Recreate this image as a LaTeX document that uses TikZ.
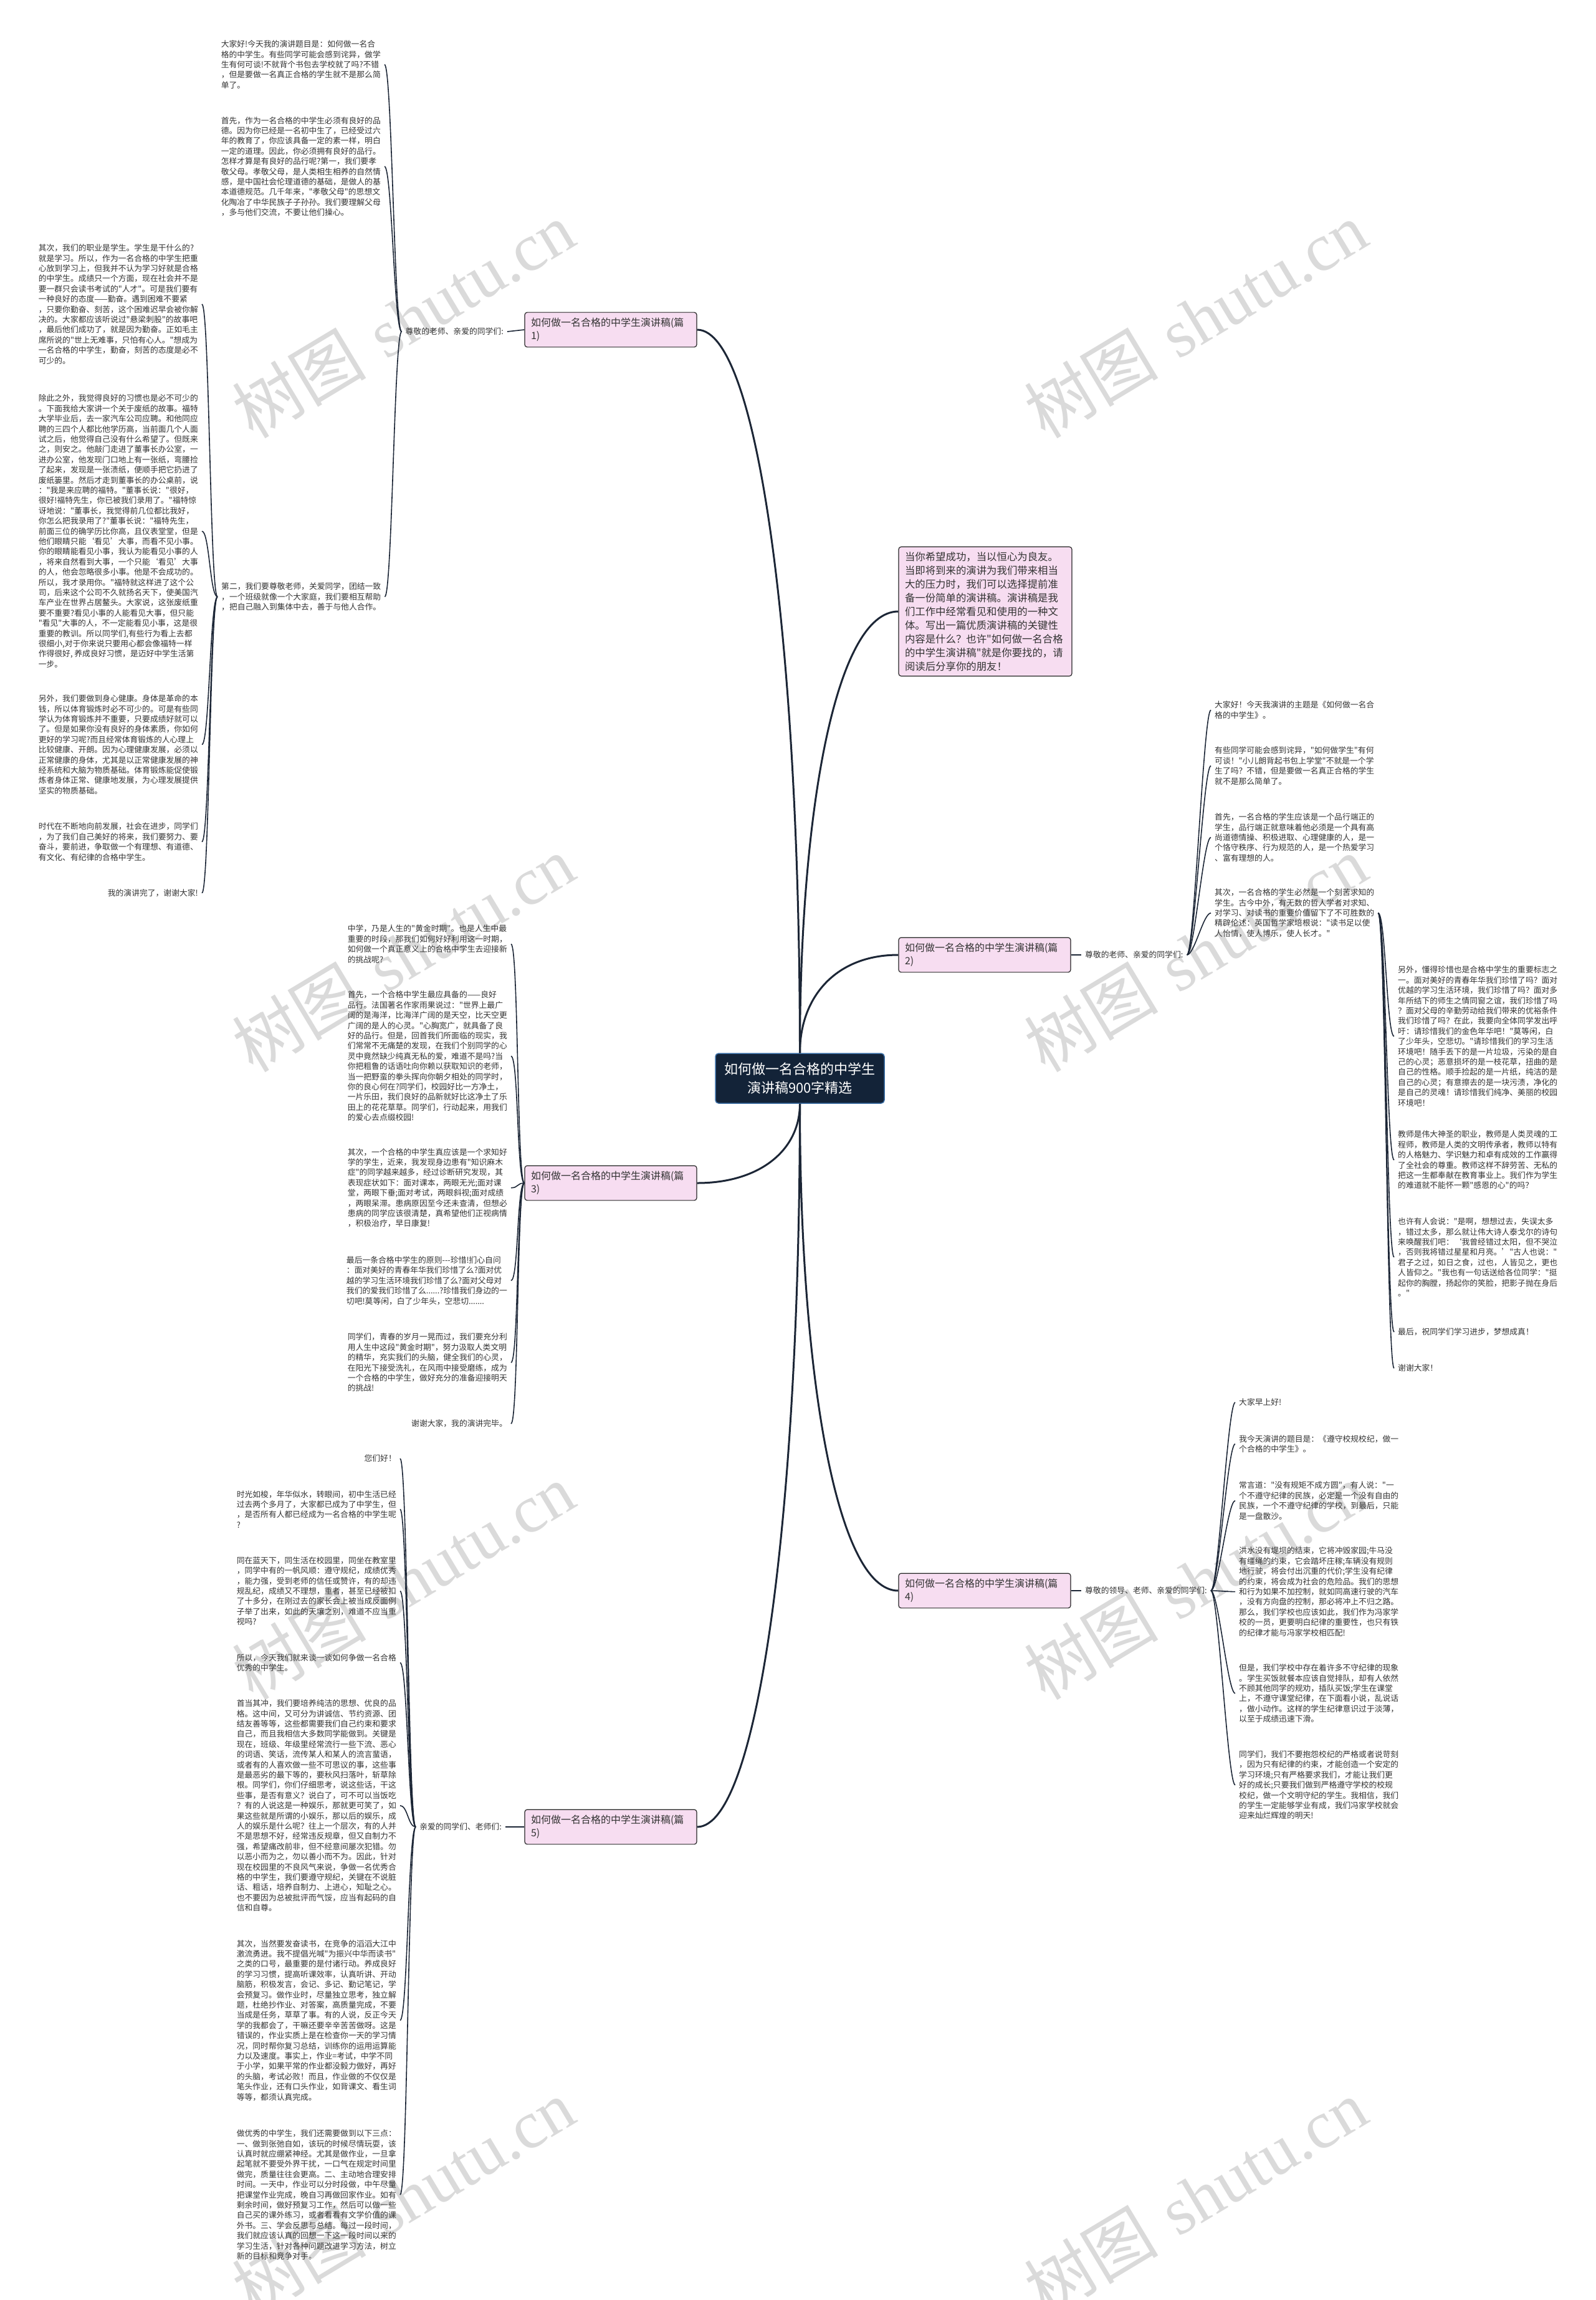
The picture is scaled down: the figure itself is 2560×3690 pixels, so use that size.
\documentclass[tikz,border=0pt]{standalone}
\usepackage{fontspec}
\newfontfamily\zh{Noto Sans CJK SC}
\newfontfamily\wmserif{Liberation Serif}
\definecolor{pinkfill}{HTML}{F7DDF1}
\definecolor{navyfill}{HTML}{132338}
\definecolor{navyedge}{HTML}{3A6EA5}
\definecolor{linec}{HTML}{1C2636}
\definecolor{txt}{HTML}{333333}
\definecolor{wmgray}{HTML}{DADADA}
\tikzset{
  leaf/.style={font=\zh\fontsize{12.8}{16.4}\selectfont, text=txt, align=left, inner xsep=6pt, inner ysep=0pt},
  topic/.style={draw=black!85, line width=1.2pt, fill=pinkfill, rounded corners=4pt, font=\zh\fontsize{16}{21}\selectfont, text=txt, align=left, text width=256pt, inner xsep=10pt, inner ysep=9pt},
  summarybox/.style={draw=black!85, line width=1.2pt, fill=pinkfill, rounded corners=4pt, font=\zh\fontsize{16.4}{22}\selectfont, text=txt, align=left, text width=258pt, inner xsep=10pt, inner ysep=8pt},
  rootnode/.style={draw=navyedge, line width=1.5pt, fill=navyfill, rounded corners=5pt, font=\zh\fontsize{22}{30}\selectfont, text=white, align=center, minimum width=271pt, minimum height=80pt},
  mainline/.style={draw=linec, line width=3pt},
  leafline/.style={draw=linec, line width=1.6pt},
  watermark/.style={font=\fontsize{108}{108}\selectfont, text=wmgray, rotate=31, inner sep=0pt}
}
\begin{document}
\begin{tikzpicture}[x=1pt,y=-1pt]
\useasboundingbox (0,0) rectangle (2560,3690);
\fill[white] (0,0) rectangle (2560,3690);

% watermarks
\foreach \wx/\wy [count=\i] in {647/513, 1918/513, 647/1530, 1918/1530, 647/2537, 1918/2537, 647/3525, 1918/3525}
  \node[watermark] (wm\i) at (\wx,\wy) {{\zh 树图} {\wmserif shutu.cn}};

% root and topics
\node[rootnode] (root) at (1283.5,1730) {如何做一名合格的中学生\\演讲稿900字精选};
\node[topic] (p1) at (980,529) {如何做一名合格的中学生演讲稿(篇\\1)};
\node[summarybox] (sum) at (1581,981) {当你希望成功，当以恒心为良友。\\当即将到来的演讲为我们带来相当\\大的压力时，我们可以选择提前准\\备一份简单的演讲稿。演讲稿是我\\们工作中经常看见和使用的一种文\\体。写出一篇优质演讲稿的关键性\\内容是什么？也许"如何做一名合格\\的中学生演讲稿"就是你要找的，请\\阅读后分享你的朋友！};
\node[topic] (p2) at (1580,1532) {如何做一名合格的中学生演讲稿(篇\\2)};
\node[topic] (p3) at (980,1898) {如何做一名合格的中学生演讲稿(篇\\3)};
\node[topic] (p4) at (1580,2552) {如何做一名合格的中学生演讲稿(篇\\4)};
\node[topic] (p5) at (980,2931) {如何做一名合格的中学生演讲稿(篇\\5)};

% labels
\node[leaf, anchor=east] (l1) at (814,532) {尊敬的老师、亲爱的同学们:};
\node[leaf, anchor=west] (l2) at (1735,1532) {尊敬的老师、亲爱的同学们:};
\node[leaf, anchor=west] (l4) at (1735,2552) {尊敬的领导、老师、亲爱的同学们:};
\node[leaf, anchor=east] (l5) at (811,2931) {亲爱的同学们、老师们:};

% branch 1
\node[leaf, anchor=east] (b1a) at (617,103.5) {大家好!今天我的演讲题目是：如何做一名合\\格的中学生。有些同学可能会感到诧异，做学\\生有何可谈!不就背个书包去学校就了吗?不错\\，但是要做一名真正合格的学生就不是那么简\\单了。};
\node[leaf, anchor=east] (b1b) at (617,267.1) {首先，作为一名合格的中学生必须有良好的品\\德。因为你已经是一名初中生了，已经受过六\\年的教育了，你应该具备一定的素一样，明白\\一定的道理。因此，你必须拥有良好的品行。\\怎样才算是有良好的品行呢?第一，我们要孝\\敬父母。孝敬父母，是人类相生相养的自然情\\感，是中国社会伦理道德的基础，是做人的基\\本道德规范。几千年来，"孝敬父母"的思想文\\化陶冶了中华民族子子孙孙。我们要理解父母\\，多与他们交流，不要让他们操心。};
\node[leaf, anchor=west] (b1c) at (349,957.4) {第二，我们要尊敬老师，关爱同学，团结一致\\，一个班级就像一个大家庭，我们要相互帮助\\，把自己融入到集体中去，善于与他人合作。};
\node[leaf, anchor=east] (b1d) at (324,488) {其次，我们的职业是学生。学生是干什么的?\\就是学习。所以，作为一名合格的中学生把重\\心放到学习上，但我并不认为学习好就是合格\\的中学生。成绩只一个方面，现在社会并不是\\要一群只会读书考试的"人才"。可是我们要有\\一种良好的态度——勤奋。遇到困难不要紧\\，只要你勤奋、刻苦，这个困难迟早会被你解\\决的。大家都应该听说过"悬梁刺股"的故事吧\\，最后他们成功了，就是因为勤奋。正如毛主\\席所说的"世上无难事，只怕有心人。"想成为\\一名合格的中学生，勤奋，刻苦的态度是必不\\可少的。};
\node[leaf, anchor=east] (b1e) at (324,852.2) {除此之外，我觉得良好的习惯也是必不可少的\\。下面我给大家讲一个关于废纸的故事。福特\\大学毕业后，去一家汽车公司应聘。和他同应\\聘的三四个人都比他学历高，当前面几个人面\\试之后，他觉得自己没有什么希望了。但既来\\之，则安之。他敲门走进了董事长办公室，一\\进办公室，他发现门口地上有一张纸，弯腰捡\\了起来，发现是一张渍纸，便顺手把它扔进了\\废纸篓里。然后才走到董事长的办公桌前，说\\："我是来应聘的福特。"董事长说："很好，\\很好!福特先生，你已被我们录用了。"福特惊\\讶地说："董事长，我觉得前几位都比我好，\\你怎么把我录用了?"董事长说："福特先生，\\前面三位的确学历比你高，且仪表堂堂，但是\\他们眼睛只能‘看见’大事，而看不见小事。\\你的眼睛能看见小事，我认为能看见小事的人\\，将来自然看到大事，一个只能‘看见’大事\\的人，他会忽略很多小事。他是不会成功的。\\所以，我才录用你。"福特就这样进了这个公\\司，后来这个公司不久就扬名天下，使美国汽\\车产业在世界占居鳌头。大家说，这张废纸重\\要不重要?看见小事的人能看见大事，但只能\\"看见"大事的人，不一定能看见小事，这是很\\重要的教训。所以同学们,有些行为看上去都\\很细小,对于你来说只要用心都会像福特一样\\作得很好, 养成良好习惯，是迈好中学生活第\\一步。};
\node[leaf, anchor=east] (b1f) at (324,1194.5) {另外，我们要做到身心健康。身体是革命的本\\钱，所以体育锻炼时必不可少的。可是有些同\\学认为体育锻炼并不重要，只要成绩好就可以\\了。但是如果你没有良好的身体素质，你如何\\更好的学习呢?而且经常体育锻炼的人心理上\\比较健康、开朗。因为心理健康发展，必须以\\正常健康的身体，尤其是以正常健康发展的神\\经系统和大脑为物质基础。体育锻炼能促使锻\\炼者身体正常、健康地发展，为心理发展提供\\坚实的物质基础。};
\node[leaf, anchor=east] (b1g) at (324,1350.6) {时代在不断地向前发展，社会在进步，同学们\\，为了我们自己美好的将来，我们要努力、要\\奋斗，要前进，争取做一个有理想、有道德、\\有文化、有纪律的合格中学生。};
\node[leaf, anchor=east] (b1h) at (324,1432.7) {我的演讲完了，谢谢大家!};

% branch 2
\node[leaf, anchor=west] (b2a) at (1943,1139.2) {大家好！今天我演讲的主题是《如何做一名合\\格的中学生》。};
\node[leaf, anchor=west] (b2b) at (1943,1228.6) {有些同学可能会感到诧异，"如何做学生"有何\\可谈！"小儿朗背起书包上学堂"不就是一个学\\生了吗？不错，但是要做一名真正合格的学生\\就不是那么简单了。};
\node[leaf, anchor=west] (b2c) at (1943,1343.5) {首先，一名合格的学生应该是一个品行端正的\\学生，品行端正就意味着他必须是一个具有高\\尚道德情操、积极进取、心理健康的人，是一\\个恪守秩序、行为规范的人，是一个热爱学习\\、富有理想的人。};
\node[leaf, anchor=west] (b2d) at (1943,1464.8) {其次，一名合格的学生必然是一个刻苦求知的\\学生。古今中外，有无数的哲人学者对求知、\\对学习、对读书的重要价值留下了不可胜数的\\精辟伦述：英国哲学家培根说："读书足以使\\人怡情，使人博乐，使人长才。"};
\node[leaf, anchor=west] (b2e) at (2237,1662.5) {另外，懂得珍惜也是合格中学生的重要标志之\\一。面对美好的青春年华我们珍惜了吗？面对\\优越的学习生活环境，我们珍惜了吗？面对多\\年所结下的师生之情同窗之谊，我们珍惜了吗\\？面对父母的辛勤劳动给我们带来的优裕条件\\我们珍惜了吗？在此，我要向全体同学发出呼\\吁：请珍惜我们的金色年华吧！"莫等闲，白\\了少年头，空悲切。"请珍惜我们的学习生活\\环境吧！随手丢下的是一片垃圾，污染的是自\\己的心灵；恶意损坏的是一枝花草，扭曲的是\\自己的性格。顺手捡起的是一片纸，纯洁的是\\自己的心灵；有意擦去的是一块污渍，净化的\\是自己的灵魂！请珍惜我们纯净、美丽的校园\\环境吧！};
\node[leaf, anchor=west] (b2f) at (2237,1861) {教师是伟大神圣的职业，教师是人类灵魂的工\\程师，教师是人类的文明传承者，教师以特有\\的人格魅力、学识魅力和卓有成效的工作赢得\\了全社会的尊重。教师这样不辞劳苦、无私的\\把这一生都奉献在教育事业上。我们作为学生\\的难道就不能怀一颗"感恩的心"的吗？};
\node[leaf, anchor=west] (b2g) at (2237,2017) {也许有人会说："是啊，想想过去，失误太多\\，错过太多，那么就让伟大诗人泰戈尔的诗句\\来唤醒我们吧：‘我曾经错过太阳，但不哭泣\\，否则我将错过星星和月亮。’"古人也说："\\君子之过，如日之食，过也，人皆见之，更也\\人皆仰之。"我也有一句话送给各位同学："挺\\起你的胸膛，扬起你的笑脸，把影子抛在身后\\。"};
\node[leaf, anchor=west] (b2h) at (2237,2137) {最后，祝同学们学习进步，梦想成真！};
\node[leaf, anchor=west] (b2i) at (2237,2195) {谢谢大家！};

% branch 3
\node[leaf, anchor=east] (b3a) at (820,1514.6) {中学，乃是人生的"黄金时期"。也是人生中最\\重要的时段，那我们如何好好利用这一时期，\\如何做一个真正意义上的合格中学生去迎接新\\的挑战呢?};
\node[leaf, anchor=east] (b3b) at (820,1694.4) {首先，一个合格中学生最应具备的——良好\\品行。法国著名作家雨果说过："世界上最广\\阔的是海洋，比海洋广阔的是天空，比天空更\\广阔的是人的心灵。"心胸宽广，就具备了良\\好的品行。但是，回首我们所面临的现实，我\\们常常不无痛楚的发现，在我们个别同学的心\\灵中竟然缺少纯真无私的爱，难道不是吗?当\\你把粗鲁的话语吐向你赖以获取知识的老师，\\当一把野蛮的拳头挥向你朝夕相处的同学时，\\你的良心何在?同学们，校园好比一方净土，\\一片乐田，我们良好的品新就好比这净土了乐\\田上的花花草草。同学们，行动起来，用我们\\的爱心去点缀校园!};
\node[leaf, anchor=east] (b3c) at (820,1905.7) {其次，一个合格的中学生真应该是一个求知好\\学的学生，近来，我发现身边患有"知识麻木\\症"的同学越来越多，经过诊断研究发现，其\\表现症状如下：面对课本，两眼无光;面对课\\堂，两眼下垂;面对考试，两眼斜视;面对成绩\\，两眼呆滞。患病原因至今还未查清，但想必\\患病的同学应该很清楚，真希望他们正视病情\\，积极治疗，早日康复!};
\node[leaf, anchor=east] (b3d) at (820,2054.5) {最后一条合格中学生的原则---珍惜!扪心自问\\：面对美好的青春年华我们珍惜了么?面对优\\越的学习生活环境我们珍惜了么?面对父母对\\我们的爱我们珍惜了么......?珍惜我们身边的一\\切吧!莫等闲，白了少年头，空悲切.......};
\node[leaf, anchor=east] (b3e) at (820,2186) {同学们，青春的岁月一晃而过，我们要充分利\\用人生中这段"黄金时期"，努力汲取人类文明\\的精华，充实我们的头脑，健全我们的心灵，\\在阳光下接受洗礼，在风雨中接受磨练，成为\\一个合格的中学生，做好充分的准备迎接明天\\的挑战!};
\node[leaf, anchor=east] (b3f) at (820,2284) {谢谢大家，我的演讲完毕。};

% branch 4
\node[leaf, anchor=west] (b4a) at (1982,2250) {大家早上好!};
\node[leaf, anchor=west] (b4b) at (1982,2316.6) {我今天演讲的题目是：《遵守校规校纪，做一\\个合格的中学生》。};
\node[leaf, anchor=west] (b4c) at (1982,2407.6) {常言道："没有规矩不成方圆"，有人说："一\\个不遵守纪律的民族，必定是一个没有自由的\\民族，一个不遵守纪律的学校，到最后，只能\\是一盘散沙。};
\node[leaf, anchor=west] (b4d) at (1982,2553.6) {洪水没有堤坝的结束，它将冲毁家园;牛马没\\有缰绳的约束，它会踏坏庄稼;车辆没有规则\\地行驶，将会付出沉重的代价;学生没有纪律\\的约束，将会成为社会的危险品。我们的思想\\和行为如果不加控制，就如同高速行驶的汽车\\，没有方向盘的控制，那必将冲上不归之路。\\那么，我们学校也应该如此，我们作为冯家学\\校的一员，更要明白纪律的重要性，也只有铁\\的纪律才能与冯家学校相匹配!};
\node[leaf, anchor=west] (b4e) at (1982,2716.7) {但是，我们学校中存在着许多不守纪律的现象\\。学生买饭就餐本应该自觉排队，却有人依然\\不顾其他同学的规劝，插队买饭;学生在课堂\\上，不遵守课堂纪律，在下面看小说，乱说话\\，做小动作。这样的学生纪律意识过于淡薄，\\以至于成绩迅速下滑。};
\node[leaf, anchor=west] (b4f) at (1982,2863.7) {同学们，我们不要抱怨校纪的严格或者说苛刻\\，因为只有纪律的约束，才能创造一个安定的\\学习环境;只有严格要求我们，才能让我们更\\好的成长;只要我们做到严格遵守学校的校规\\校纪，做一个文明守纪的学生。我相信，我们\\的学生一定能够学业有成，我们冯家学校就会\\迎来灿烂辉煌的明天!};

% branch 5
\node[leaf, anchor=east] (b5a) at (642,2340) {您们好！};
\node[leaf, anchor=east] (b5b) at (642,2421.3) {时光如梭，年华似水，转眼间，初中生活已经\\过去两个多月了，大家都已成为了中学生，但\\，是否所有人都已经成为一名合格的中学生呢\\?};
\node[leaf, anchor=east] (b5c) at (642,2552.5) {同在蓝天下，同生活在校园里，同坐在教室里\\，同学中有的一帆风顺：遵守规纪，成绩优秀\\，能力强，受到老师的信任或赞许，有的却违\\规乱纪，成绩又不理想，重者，甚至已经被扣\\了十多分，在刚过去的家长会上被当成反面例\\子举了出来，如此的天壤之别，难道不应当重\\视吗?};
\node[leaf, anchor=east] (b5d) at (642,2667.5) {所以，今天我们就来谈一谈如何争做一名合格\\优秀的中学生。};
\node[leaf, anchor=east] (b5e) at (642,2896.7) {首当其冲，我们要培养纯洁的思想、优良的品\\格。这中间，又可分为讲诚信、节约资源、团\\结友善等等，这些都需要我们自己约束和要求\\自己，而且我相信大多数同学能做到。关键是\\现在，班级、年级里经常流行一些下流、恶心\\的词语、笑话，流传某人和某人的流言蜚语，\\或者有的人喜欢做一些不可思议的事，这些事\\是最恶劣的最下等的，要秋风扫落叶，斩草除\\根。同学们，你们仔细思考，说这些话，干这\\些事，是否有意义？说白了，可不可以当饭吃\\？有的人说这是一种娱乐，那就更可笑了，如\\果这些就是所谓的小娱乐，那以后的娱乐，成\\人的娱乐是什么呢？往上一个层次，有的人并\\不是思想不好，经常违反规章，但又自制力不\\强，希望痛改前非，但不经意间屡次犯错。勿\\以恶小而为之，勿以善小而不为。因此，针对\\现在校园里的不良风气来说，争做一名优秀合\\格的中学生，我们要遵守规纪，关键在不说脏\\话、粗话，培养自制力、上进心，知耻之心。\\也不要因为总被批评而气馁，应当有起码的自\\信和自尊。};
\node[leaf, anchor=east] (b5f) at (642,3241.3) {其次，当然要发奋读书，在竞争的滔滔大江中\\激流勇进。我不提倡光喊"为振兴中华而读书"\\之类的口号，最重要的是付诸行动。养成良好\\的学习习惯，提高听课效率，认真听讲、开动\\脑筋，积极发言，会记、多记、勤记笔记，学\\会预复习。做作业时，尽量独立思考，独立解\\题，杜绝抄作业、对答案，高质量完成，不要\\当成是任务，草草了事。有的人说，反正今天\\学的我都会了，干嘛还要辛辛苦苦做呀。这是\\错误的，作业实质上是在检查你一天的学习情\\况，同时帮你复习总结，训练你的运用运算能\\力以及速度。事实上，作业=考试，中学不同\\于小学，如果平常的作业都没毅力做好，再好\\的头脑，考试必败！而且，作业做的不仅仅是\\笔头作业，还有口头作业，如背课文、看生词\\等等，都须认真完成。};
\node[leaf, anchor=east] (b5g) at (642,3521.1) {做优秀的中学生，我们还需要做到以下三点：\\一、做到张弛自如，该玩的时候尽情玩耍，该\\认真时就应绷紧神经。尤其是做作业，一旦拿\\起笔就不要受外界干扰，一口气在规定时间里\\做完，质量往往会更高。二、主动地合理安排\\时间。一天中，作业可以分时段做，中午尽量\\把课堂作业完成，晚自习再做回家作业。如有\\剩余时间，做好预复习工作，然后可以做一些\\自己买的课外练习，或者看看有文学价值的课\\外书。三、学会反思与总结。每过一段时间，\\我们就应该认真的回想一下这一段时间以来的\\学习生活，针对各种问题改进学习方法，树立\\新的目标和竞争对手。};

% main connectors
\draw[mainline] (root.north) .. controls +(0,-640) and +(100,0) .. (p1.east);
\draw[mainline] (root.north) .. controls +(0,-390) and +(-100,0) .. (sum.west);
\draw[mainline] (root.north) .. controls +(0,-90) and +(-100,0) .. (p2.west);
\draw[mainline] (root.south) .. controls +(0,75) and +(100,0) .. (p3.east);
\draw[mainline] (root.south) .. controls +(0,430) and +(-100,0) .. (p4.west);
\draw[mainline] (root.south) .. controls +(0,640) and +(100,0) .. (p5.east);

% topic to label
\draw[leafline] (p1.west) -- (l1.east);
\draw[leafline] (p2.east) -- (l2.west);
\draw[leafline] (p4.east) -- (l4.west);
\draw[leafline] (p5.west) -- (l5.east);

% leaf connectors
\foreach \b in {b1a,b1b,b1c}
  \draw[leafline] (l1.west) .. controls +(-12,0) and +(12,0) .. (\b.east);
\foreach \b in {b1d,b1e,b1f,b1g,b1h}
  \draw[leafline] (b1c.west) .. controls +(-12,0) and +(12,0) .. (\b.east);
\foreach \b in {b2a,b2b,b2c,b2d}
  \draw[leafline] (l2.east) .. controls +(12,0) and +(-12,0) .. (\b.west);
\foreach \b in {b2e,b2f,b2g,b2h,b2i}
  \draw[leafline] (b2d.east) .. controls +(12,0) and +(-12,0) .. (\b.west);
\foreach \b in {b3a,b3b,b3c,b3d,b3e,b3f}
  \draw[leafline] (p3.west) .. controls +(-12,0) and +(12,0) .. (\b.east);
\foreach \b in {b4a,b4b,b4c,b4d,b4e,b4f}
  \draw[leafline] (l4.east) .. controls +(12,0) and +(-12,0) .. (\b.west);
\foreach \b in {b5a,b5b,b5c,b5d,b5e,b5f,b5g}
  \draw[leafline] (l5.west) .. controls +(-12,0) and +(12,0) .. (\b.east);
\end{tikzpicture}
\end{document}
